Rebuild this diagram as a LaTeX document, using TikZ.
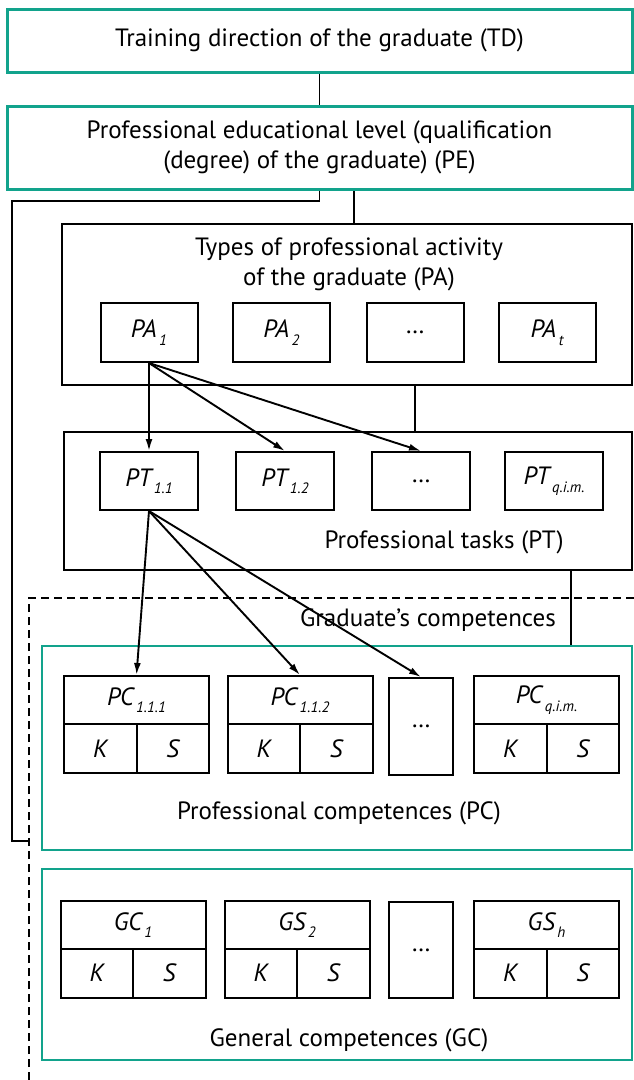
\documentclass[tikz,border=0pt]{standalone}
\usepackage{fontspec}
\setmainfont{PT Sans}
\usetikzlibrary{arrows.meta}
\definecolor{tealline}{RGB}{18,163,140}
\newcommand\labelsize{\fontsize{25}{30}\selectfont}
\tikzset{
  tealbox/.style={draw=tealline,line width=3pt,minimum width=625pt},
  blackbox/.style={draw,line width=2pt},
  cell/.style={draw,line width=2pt,inner sep=0pt,font=\labelsize\itshape},
  dots/.style={cell,font=\labelsize},
  arr/.style={line width=1.9pt,-{Latex[length=12pt,width=7pt]}},
  link/.style={line width=1.9pt}
}
\newcommand\low[1]{\raisebox{-0.6ex}{\fontsize{15}{15}\selectfont\itshape\,#1}}
\begin{document}
\begin{tikzpicture}[x=1pt,y=-1pt,font=\labelsize]
\useasboundingbox (0,0) rectangle (634,1080);
\node[tealbox,minimum height=63pt] (TD) at (319.5,40.5) {Training direction of the graduate (TD)};
\node[tealbox,minimum height=83pt,align=center] (PE) at (319.5,147.5)
  {Professional educational level (qualification\\(degree) of the graduate) (PE)};
\node[blackbox,minimum width=570pt,minimum height=161pt] (PA) at (347,304.5) {};
\node[align=center] (PAtitle) at (349,264) {Types of professional activity\\of the graduate (PA)};
\node[cell,minimum width=97pt,minimum height=59pt] (pa1) at (149,332.5) {PA\low{1}};
\node[cell,minimum width=97pt,minimum height=59pt] (pa2) at (281.5,332.5) {PA\low{2}};
\node[dots,minimum width=97pt,minimum height=59pt] (pa3) at (415,332.5) {\ldots};
\node[cell,minimum width=97pt,minimum height=59pt] (pa4) at (547,332.5) {PA\low{t}};
\node[blackbox,minimum width=568pt,minimum height=138pt] (PT) at (348,501) {};
\node[cell,minimum width=98pt,minimum height=58pt] (pt1) at (149,481) {PT\low{1.1}};
\node[cell,minimum width=98pt,minimum height=58pt] (pt2) at (285,481) {PT\low{1.2}};
\node[dots,minimum width=98pt,minimum height=58pt] (pt3) at (421,481) {\ldots};
\node[cell,minimum width=98pt,minimum height=58pt] (pt4) at (554,481) {PT\low{q.i.m.}};
\node (PTtitle) at (444,542) {Professional tasks (PT)};
\draw[line width=2.6pt,dash pattern=on 8pt off 5pt] (29,1080) -- (29,598) -- (634,598);
\node (GRtitle) at (428,620) {Graduate’s competences};
\node[tealbox,line width=2.2pt,minimum width=590pt,minimum height=204pt] (PC) at (337,748) {};
\node[cell,minimum width=145pt,minimum height=48pt] (pc1) at (136.5,700) {PC\low{1.1.1}};
\node[cell,minimum width=145pt,minimum height=48pt] (pc2) at (300,700) {PC\low{1.1.2}};
\node[dots,minimum width=64pt,minimum height=97pt] (pc3) at (421,726.5) {\ldots};
\node[cell,minimum width=145pt,minimum height=48pt] (pc4) at (546.5,700) {PC\low{q.i.m.}};
\node (PCtitle) at (339,813) {Professional competences (PC)};
\node[tealbox,line width=2.2pt,minimum width=590pt,minimum height=191pt] (GC) at (337,964.5) {};
\node[cell,minimum width=145pt,minimum height=48pt] (gc1) at (133,925) {GC\low{1}};
\node[cell,minimum width=145pt,minimum height=48pt] (gc2) at (297,925) {GS\low{2}};
\node[dots,minimum width=64pt,minimum height=96pt] (gc3) at (421,950) {\ldots};
\node[cell,minimum width=145pt,minimum height=48pt] (gc4) at (546.5,925) {GS\low{h}};
\node (GCtitle) at (349,1040) {General competences (GC)};
\foreach \n/\x/\y in {pc1/136.5/748.5,pc2/300/748.5,pc4/546.5/748.5,gc1/133/973,gc2/297/973,gc4/546.5/973}{
  \node[cell,minimum width=72.5pt,minimum height=49pt] (\n-k) at (\x-36.25,\y) {K};
  \node[cell,minimum width=72.5pt,minimum height=49pt] (\n-s) at (\x+36.25,\y) {S};
}
\coordinate (bend) at (12,201);
\coordinate (dashend) at (29,841);
\coordinate (ptpc) at (571,0);
\draw[link] (TD) -- (PE);
\draw[link] (PE.south) |- (bend) |- (dashend);
\draw[link] ([xshift=7pt]PA.north) -- ([xshift=7pt]PA.north |- PE.south);
\draw[link] (pa3 |- PA.south) -- (pa3 |- PT.north);
\draw[link] (PT.south -| ptpc) -- (PC.north -| ptpc);
\draw[arr] (pa1.south) -- (pt1.north);
\draw[arr] (pa1.south) -- (pt2.north);
\draw[arr] (pa1.south) -- (pt3.north);
\draw[arr] (pt1.south) -- (pc1.north);
\draw[arr] (pt1.south) -- (pc2.north);
\draw[arr] (pt1.south) -- (pc3.north);
\end{tikzpicture}
\end{document}
